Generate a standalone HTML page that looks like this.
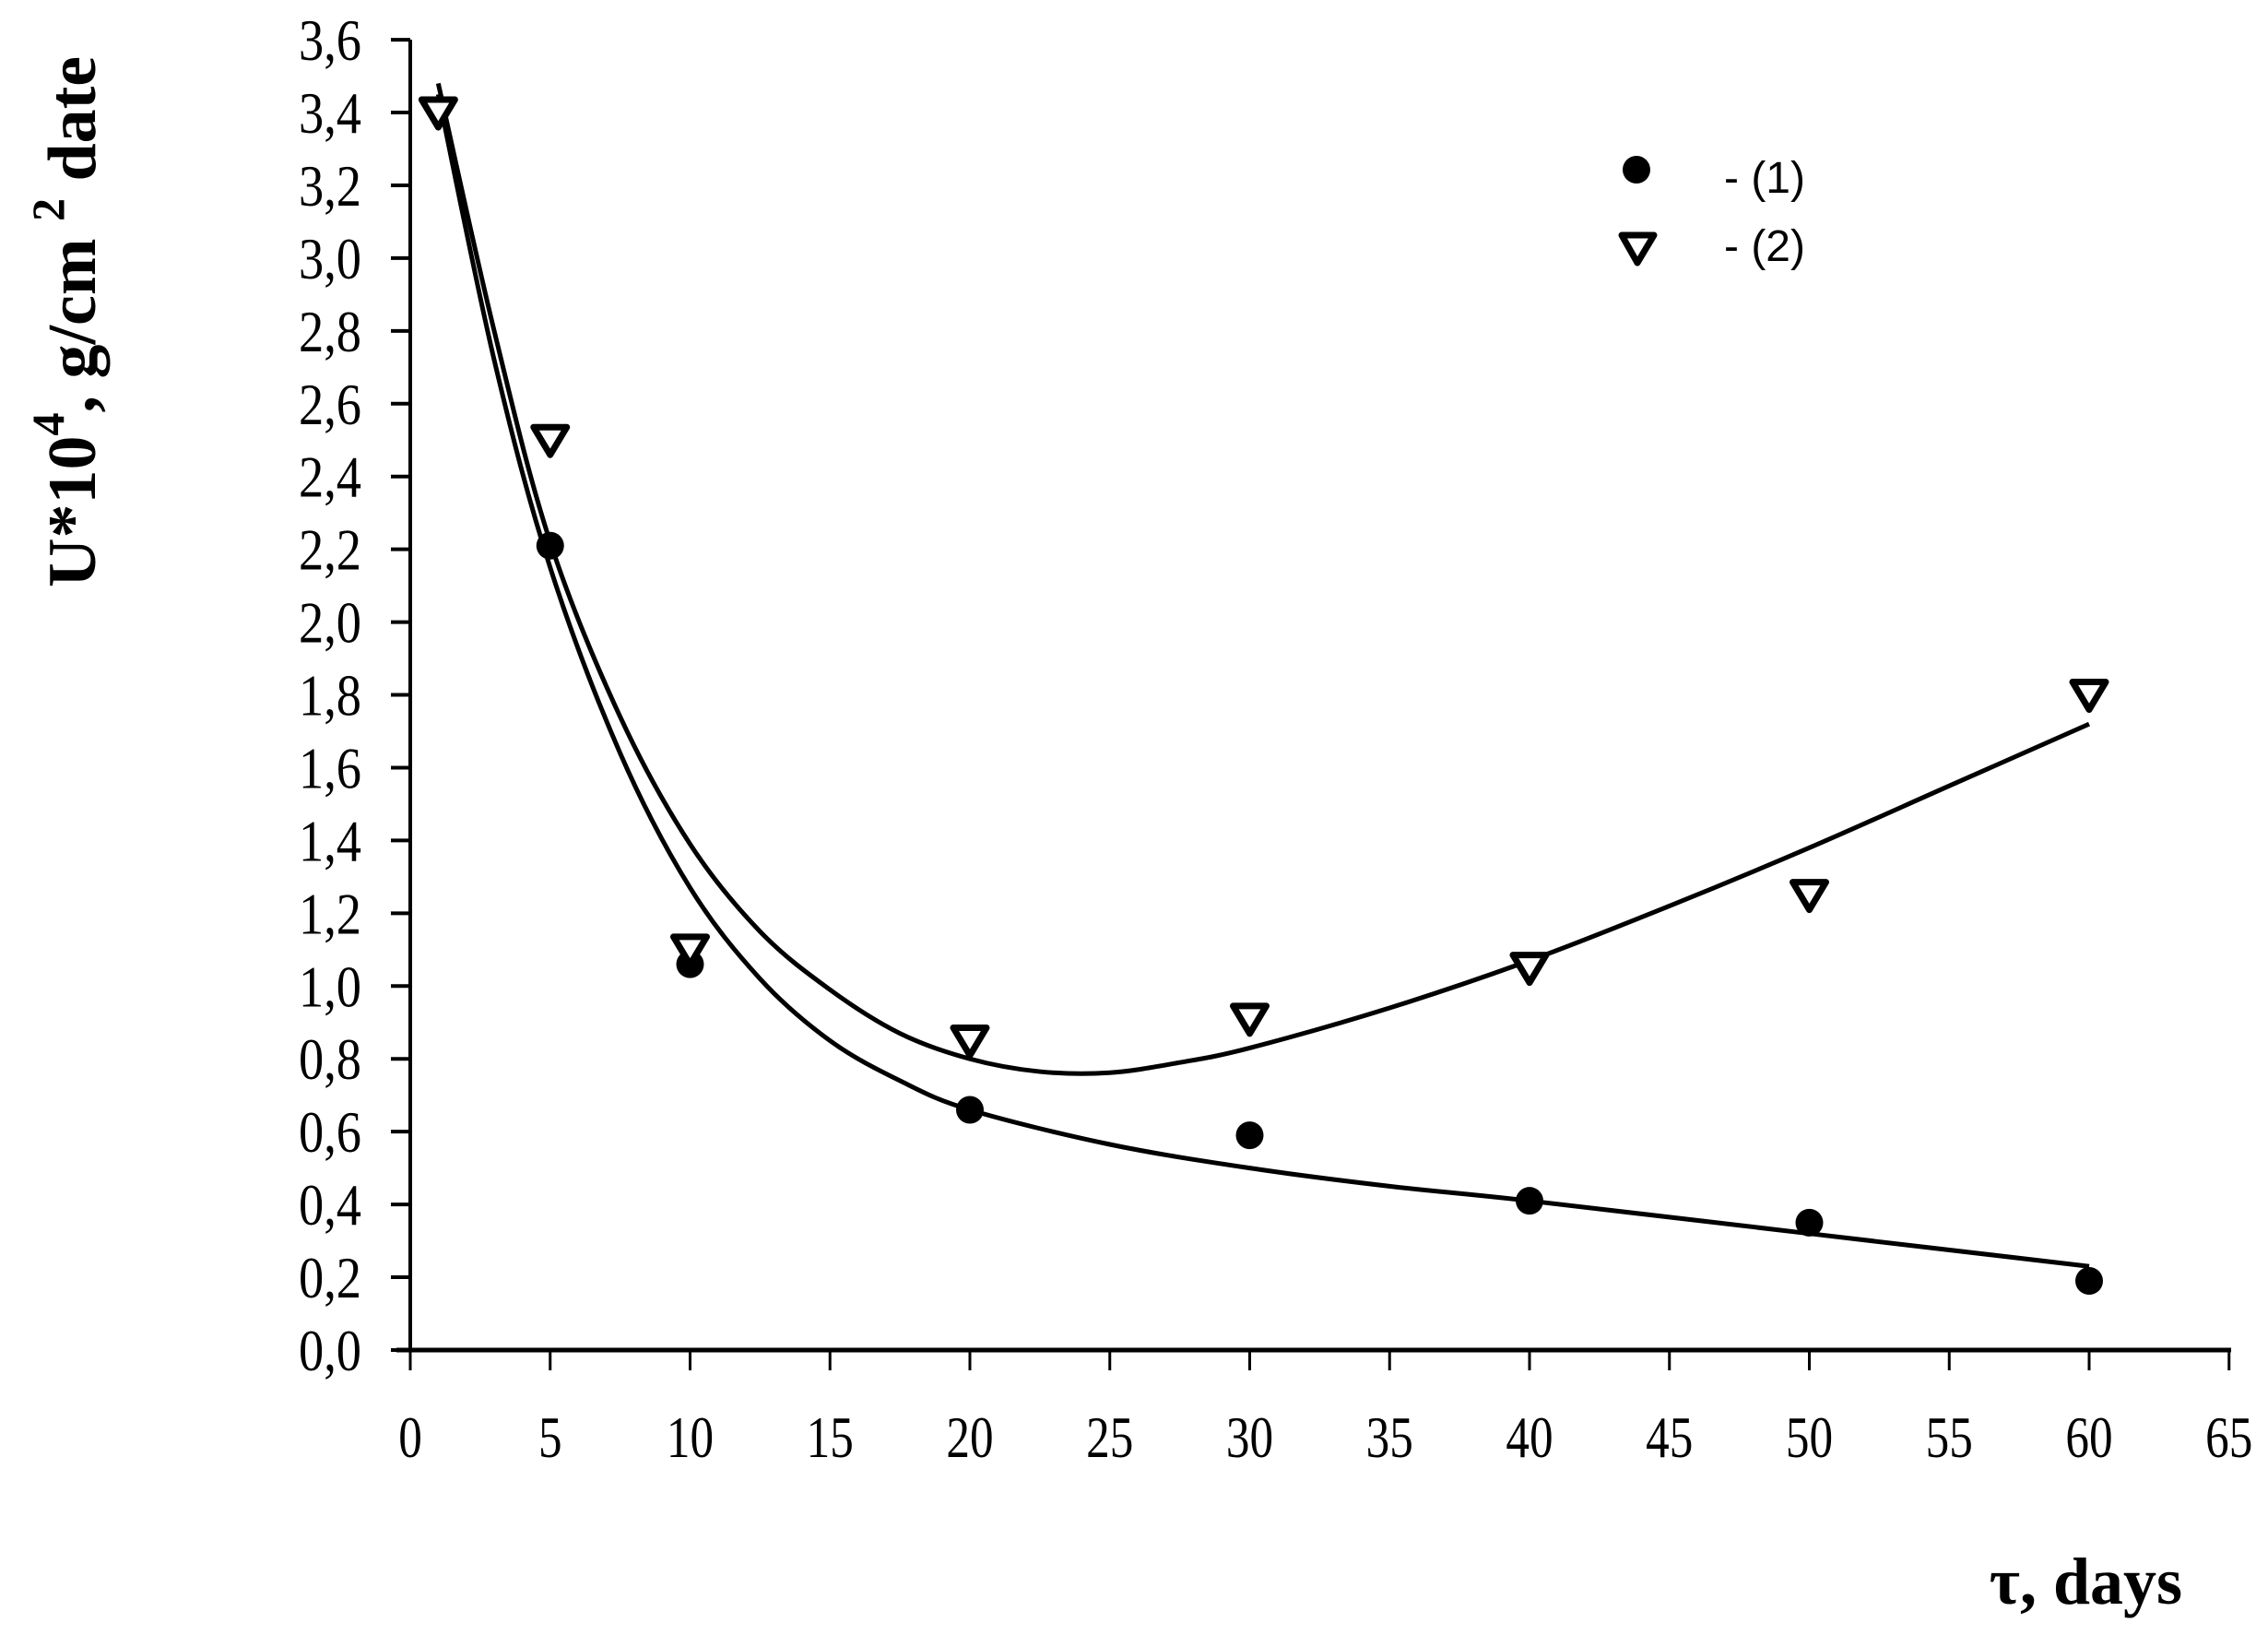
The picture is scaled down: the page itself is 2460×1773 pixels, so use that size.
<!DOCTYPE html>
<html><head><meta charset="utf-8"><style>
html,body{margin:0;padding:0;background:#fff;}
svg{display:block;}
.t{font-family:"Liberation Serif",serif;font-size:64px;fill:#000;}
</style></head><body>
<svg id="s" width="2460" height="1773" viewBox="0 0 2460 1773" xmlns="http://www.w3.org/2000/svg">
<g id="g"></g>
<text x="1870" y="209" font-family="Liberation Sans, sans-serif" font-size="48">- (1)</text>
<text x="1870" y="283" font-family="Liberation Sans, sans-serif" font-size="48">- (2)</text>
<circle cx="1775" cy="184" r="15" fill="#000"/>
<polygon points="1759,255 1794,255 1776,285" fill="none" stroke="#000" stroke-width="7" stroke-linejoin="round"/>
<text x="2367" y="1739" text-anchor="end" font-family="Liberation Serif, serif" font-weight="bold" font-size="72">τ,  days</text>
<text transform="translate(103,637) rotate(-90)" font-family="Liberation Serif, serif" font-weight="bold" font-size="74">U*10<tspan dy="-34" font-size="50">4</tspan><tspan dy="34">, g/cm </tspan><tspan dy="-34" font-size="50">2</tspan><tspan dy="34"> date</tspan></text>
</svg>
<script>
var g=document.getElementById('g'),h='';
function px(x){return 445+30.35*x}function py(y){return 1464-394.7*y}
h+='<line x1="445" y1="43" x2="445" y2="1466" stroke="#000" stroke-width="4"/>';
h+='<line x1="430" y1="1464" x2="2420" y2="1464" stroke="#000" stroke-width="5"/>';
for(var i=0;i<=18;i++){var y=py(i*0.2);h+='<line x1="424" y1="'+y+'" x2="445" y2="'+y+'" stroke="#000" stroke-width="4"/>';
h+='<text class="t" text-anchor="end" x="392" y="'+(y+22)+'" transform="translate(392,0) scale(0.85,1) translate(-392,0)">'+(i*0.2).toFixed(1).replace('.',',')+'</text>';}
for(var i=0;i<=13;i++){var x=px(i*5);h+='<line x1="'+x+'" y1="1464" x2="'+x+'" y2="1486" stroke="#000" stroke-width="3"/>';
h+='<text class="t" text-anchor="middle" x="'+x+'" y="1580" transform="translate('+x+',0) scale(0.8,1) translate('+(-x)+',0)">'+(i*5)+'</text>';}
function path(p){var pts=p.map(function(a){return[px(a[0]),py(a[1])]});var d='M'+pts[0][0]+','+pts[0][1];
for(var i=0;i<pts.length-1;i++){var p0=pts[i-1]||pts[i],p1=pts[i],p2=pts[i+1],p3=pts[i+2]||p2;
d+=' C'+(p1[0]+(p2[0]-p0[0])/6)+','+(p1[1]+(p2[1]-p0[1])/6)+' '+(p2[0]-(p3[0]-p1[0])/6)+','+(p2[1]-(p3[1]-p1[1])/6)+' '+p2[0]+','+p2[1];}
return '<path d="'+d+'" fill="none" stroke="#000" stroke-width="5"/>';}
h+=path([[1,3.45],[3,2.72],[5,2.15],[7.5,1.64],[10,1.27],[12.5,1.02],[15,0.85],[17.5,0.74],[20,0.66],[25,0.565],[30,0.5],[35,0.45],[40,0.41],[50,0.32],[60,0.23]]);
h+=path([[1,3.48],[3,2.8],[5,2.22],[7.5,1.74],[10,1.39],[12.5,1.15],[15,0.99],[17.5,0.87],[20,0.8],[22.5,0.765],[25,0.762],[27.5,0.79],[30,0.83],[35,0.94],[40,1.07],[45,1.22],[50,1.38],[55,1.55],[60,1.72]]);
[[5,2.21],[10,1.06],[20,0.66],[30,0.59],[40,0.41],[50,0.35],[60,0.19]].forEach(function(a){h+='<circle cx="'+px(a[0])+'" cy="'+py(a[1])+'" r="15" fill="#000"/>';});
[[1,3.4],[5,2.5],[10,1.1],[20,0.85],[30,0.91],[40,1.05],[50,1.25],[60,1.8]].forEach(function(a){var x=px(a[0]),y=py(a[1]);
h+='<polygon points="'+(x-18)+','+(y-14)+' '+(x+18)+','+(y-14)+' '+x+','+(y+16)+'" fill="#fff" stroke="#000" stroke-width="7" stroke-linejoin="round"/>';});
g.innerHTML=h;
</script>
</body></html>
